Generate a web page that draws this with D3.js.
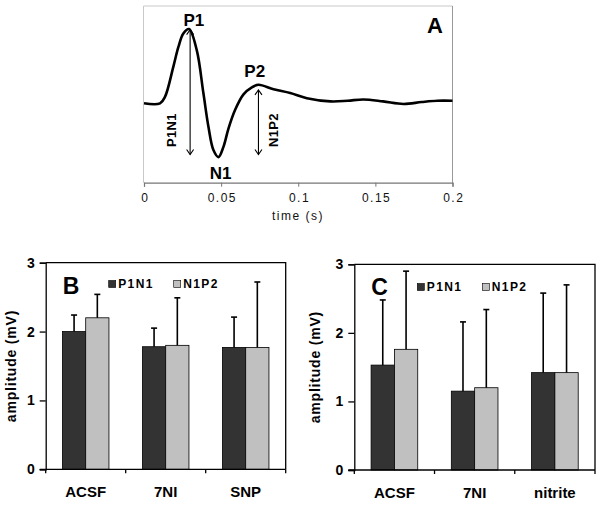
<!DOCTYPE html>
<html><head><meta charset="utf-8">
<script src="https://cdn.jsdelivr.net/npm/d3@7"></script>
<style>
html,body{margin:0;padding:0;background:#fff;}
svg{display:block;font-family:"Liberation Sans",Arial,sans-serif;}
</style></head>
<body>
<svg id="chart" width="600" height="505"></svg>
<script>
// ---- Panel A: evoked waveform ----
const timeS   = [0, 0.0104, 0.0136, 0.0190, 0.0223, 0.0255, 0.0292, 0.0342, 0.0385, 0.0418, 0.0450, 0.0483, 0.0515, 0.0548, 0.0591, 0.0645, 0.0699, 0.0742, 0.0840, 0.0948, 0.1056, 0.1208, 0.1320, 0.1422, 0.1550, 0.1682, 0.1800, 0.1901, 0.2000];
const traceMV = [0, 0, 0.10, 0.57, 0.88, 1.09, 1.16, 0.83, 0.16, -0.37, -0.73, -0.84, -0.68, -0.39, -0.10, 0.14, 0.25, 0.29, 0.22, 0.16, 0.08, 0.03, 0.04, 0.06, 0.03, -0.01, 0.02, 0.04, 0.04];
const timeTicks = [0, 0.05, 0.1, 0.15, 0.2];
const peakLabels = ["P1", "N1", "P2"];
const peakTimes  = [0.0323, 0.0497, 0.0718];
const peakValues = [1.16, -0.84, 0.29];
const arrowNames = ["P1N1", "N1P2"];
const arrowTimes = [0.0299, 0.0742];
const arrowTop   = [1.15, 0.21];
const arrowBottom= [-0.80, -0.80];

// ---- Panel B ----
const categoriesB = ["ACSF", "7NI", "SNP"];
const p1n1B = [2.00, 1.78, 1.77];
const n1p2B = [2.20, 1.80, 1.77];
const p1n1ErrB = [0.24, 0.27, 0.44];
const n1p2ErrB = [0.34, 0.69, 0.95];

// ---- Panel C ----
const categoriesC = ["ACSF", "7NI", "nitrite"];
const p1n1C = [1.53, 1.15, 1.42];
const n1p2C = [1.76, 1.20, 1.42];
const p1n1ErrC = [0.95, 1.01, 1.16];
const n1p2ErrC = [1.14, 1.14, 1.28];

const seriesNames = ["P1N1", "N1P2"];
const seriesColors = ["#333333", "#c0c0c0"];
const ampTicks = [0, 1, 2, 3];

const svg = d3.select("#chart");

// ===== Panel A =====
(function(){
  const L = 143.5, R = 452.5, T = 6, B = 182.7;
  const x = d3.scaleLinear().domain([0, 0.2]).range([L + 0.5, R]);
  const y = d3.scaleLinear().domain([-1.24, 1.52]).range([B, T]);
  const g = svg.append("g");
  // frame
  g.append("line").attr("x1", L).attr("x2", R).attr("y1", T).attr("y2", T).attr("stroke", "#c8c8c8").attr("stroke-width", 1);
  g.append("line").attr("x1", L).attr("x2", L).attr("y1", T).attr("y2", B).attr("stroke", "#c8c8c8").attr("stroke-width", 1);
  g.append("line").attr("x1", R).attr("x2", R).attr("y1", T).attr("y2", B).attr("stroke", "#999", ).attr("stroke-width", 1);
  // x axis
  const ax = d3.axisBottom(x).tickValues(timeTicks).tickSize(4).tickFormat(d3.format("~g"));
  const axG = g.append("g").attr("transform", `translate(0,${B})`).call(ax);
  axG.select(".domain").attr("stroke", "#777").attr("stroke-width", 1.2);
  axG.selectAll(".tick line").attr("stroke", "#777");
  axG.selectAll(".tick text").attr("font-size", 12).attr("fill", "#111").attr("letter-spacing", "1.5px")
     .attr("font-family", "Liberation Sans, Arial, sans-serif").attr("dy", "1.05em").attr("dx", "0.06em");
  g.append("text").attr("x", (L + R) / 2).attr("y", 220).attr("text-anchor", "middle")
   .attr("font-size", 12).attr("letter-spacing", "1.5px").attr("fill", "#111").text("time (s)");
  // trace
  const pts = timeS.map((t, i) => [t, traceMV[i]]);
  g.append("path").datum(pts).attr("fill", "none").attr("stroke", "#000").attr("stroke-width", 2.6)
   .attr("stroke-linejoin", "round")
   .attr("d", d3.line().x(d => x(d[0])).y(d => y(d[1])).curve(d3.curveCatmullRom.alpha(0.5)));
  // arrows
  const defs = svg.append("defs");
  ["s", "e"].forEach(k => {
    defs.append("marker").attr("id", "ah" + k).attr("viewBox", "-6 -6 12 12")
      .attr("refX", 0).attr("refY", 0).attr("markerWidth", 12).attr("markerHeight", 12)
      .attr("markerUnits", "userSpaceOnUse").attr("orient", "auto-start-reverse")
      .append("path").attr("d", "M-5,-3.5 L0,0 L-5,3.5").attr("fill", "none").attr("stroke", "#000").attr("stroke-width", 1.1);
  });
  arrowNames.forEach((nm, i) => {
    const ax0 = x(arrowTimes[i]);
    g.append("line").attr("x1", ax0).attr("x2", ax0).attr("y1", y(arrowTop[i])).attr("y2", y(arrowBottom[i]))
      .attr("stroke", "#000").attr("stroke-width", 1.1)
      .attr("marker-start", "url(#ahs)").attr("marker-end", "url(#ahe)");
    const lx = i === 0 ? ax0 - 14 : ax0 + 19.5;
    g.append("text").attr("transform", `translate(${lx},${y(arrowBottom[i]) - 7.5}) rotate(-90)`)
      .attr("font-size", 13).attr("font-weight", "bold").attr("letter-spacing", "0.3px").text(nm);
  });
  // peak labels
  const lblOff = [-3, 22, -8];
  peakLabels.forEach((nm, i) => {
    g.append("text").attr("x", x(peakTimes[i])).attr("y", y(peakValues[i]) + lblOff[i])
      .attr("text-anchor", "middle").attr("font-size", 17).attr("font-weight", "bold").text(nm);
  });
  g.append("text").attr("x", 435).attr("y", 33).attr("text-anchor", "middle")
   .attr("font-size", 22).attr("font-weight", "bold").text("A");
})();

// ===== Bar panels =====
function barPanel(cfg) {
  const {L, R, T, B, cats, v1, v2, e1, e2, letter, titleX, legendY} = cfg;
  const g = svg.append("g");
  const x0 = d3.scaleBand().domain(cats).range([L, R]).paddingInner(0).paddingOuter(0);
  const x1 = d3.scaleBand().domain(seriesNames).range([0, x0.bandwidth()]).paddingInner(0).paddingOuter(0.72);
  const y = d3.scaleLinear().domain([0, 3]).range([B, T]);
  const rows = cats.map((c, i) => ({c, vals: [v1[i], v2[i]], errs: [e1[i], e2[i]]}));
  // bars
  rows.forEach(r => {
    seriesNames.forEach((s, k) => {
      const bx = x0(r.c) + x1(s);
      g.append("rect").attr("x", bx).attr("y", y(r.vals[k])).attr("width", x1.bandwidth())
       .attr("height", B - y(r.vals[k])).attr("fill", seriesColors[k]).attr("stroke", "#000").attr("stroke-width", 0.8);
      const cx = bx + x1.bandwidth() / 2;
      const top = y(r.vals[k] + r.errs[k]);
      g.append("line").attr("x1", cx).attr("x2", cx).attr("y1", y(r.vals[k])).attr("y2", top).attr("stroke", "#000").attr("stroke-width", 1.6);
      g.append("line").attr("x1", cx - 3).attr("x2", cx + 3).attr("y1", top).attr("y2", top).attr("stroke", "#000").attr("stroke-width", 1.6);
    });
  });
  // frame top/right
  g.append("path").attr("d", `M${L},${T}H${R}V${B}`).attr("fill", "none").attr("stroke", "#000").attr("stroke-width", 1.3);
  // y axis
  const ay = d3.axisLeft(y).tickValues(ampTicks).tickSize(6).tickFormat(d3.format("d"));
  const yG = g.append("g").attr("transform", `translate(${L},0)`).call(ay);
  yG.select(".domain").attr("stroke", "#000").attr("stroke-width", 1.3);
  yG.selectAll(".tick line").attr("stroke", "#000").attr("stroke-width", 1.3);
  yG.selectAll(".tick text").attr("font-size", 14).attr("font-weight", "bold").attr("fill", "#000")
    .attr("font-family", "Liberation Sans, Arial, sans-serif").attr("x", -11);
  // x axis with boundary ticks
  g.append("line").attr("x1", L - 6).attr("x2", R).attr("y1", B).attr("y2", B).attr("stroke", "#000").attr("stroke-width", 1.3);
  const bounds = cats.map(c => x0(c)).concat([R]);
  g.selectAll(".xt").data(bounds).join("line").attr("x1", d => d).attr("x2", d => d)
    .attr("y1", B).attr("y2", B + 4).attr("stroke", "#000").attr("stroke-width", 1.3);
  g.selectAll(".xl").data(cats).join("text").attr("x", d => x0(d) + x0.bandwidth() / 2).attr("y", B + 27.5)
    .attr("text-anchor", "middle").attr("font-size", 15).attr("font-weight", "bold").text(d => d);
  // y title
  g.append("text").attr("transform", `translate(${titleX},${(T + B) / 2}) rotate(-90)`)
    .attr("text-anchor", "middle").attr("font-size", 14).attr("font-weight", "bold").attr("letter-spacing", "0.8px")
    .text("amplitude (mV)");
  // panel letter
  g.append("text").attr("x", L + 17).attr("y", T + 31).attr("font-size", 23).attr("font-weight", "bold").text(letter);
  // legend
  const legX = [L + 63, L + 128];
  seriesNames.forEach((s, k) => {
    g.append("rect").attr("x", legX[k]).attr("y", legendY).attr("width", 7).attr("height", 7)
      .attr("fill", seriesColors[k]).attr("stroke", "#000").attr("stroke-width", 0.6);
    g.append("text").attr("x", legX[k] + 9.5).attr("y", legendY + 7.5).attr("font-size", 12).attr("font-weight", "bold")
      .attr("letter-spacing", "1.4px").text(s);
  });
}

barPanel({L: 45.7, R: 285.7, T: 262.7, B: 469.3, cats: categoriesB, v1: p1n1B, v2: n1p2B, e1: p1n1ErrB, e2: n1p2ErrB,
          letter: "B", titleX: 16, legendY: 280.5});
barPanel({L: 354.3, R: 595, T: 264.3, B: 470, cats: categoriesC, v1: p1n1C, v2: n1p2C, e1: p1n1ErrC, e2: n1p2ErrC,
          letter: "C", titleX: 320, legendY: 283.5});
</script>
</body></html>
